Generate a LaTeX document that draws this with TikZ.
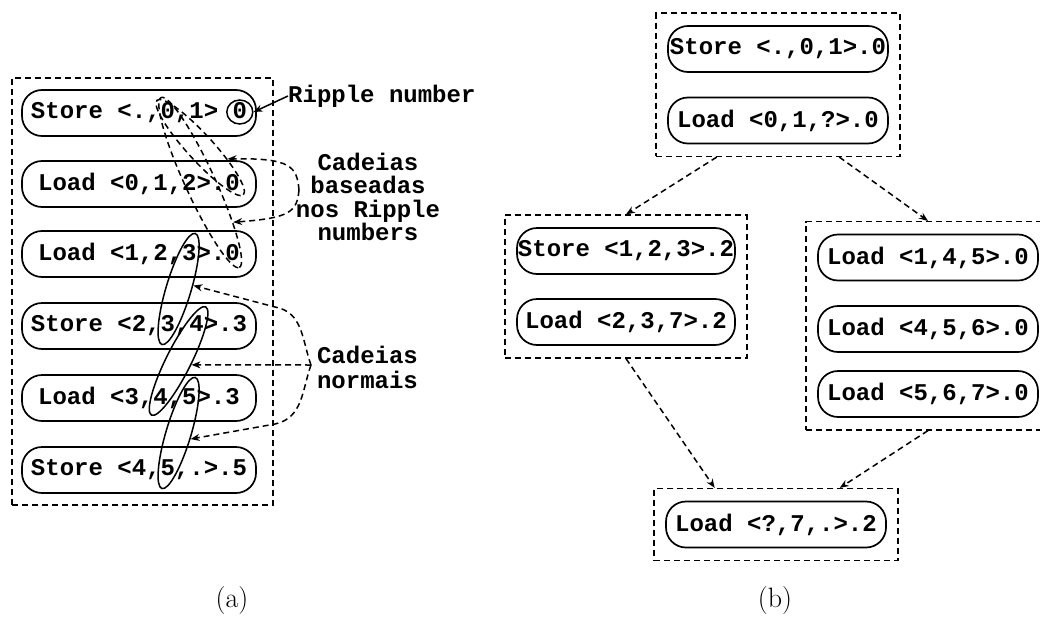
\documentclass[tikz,border=0pt]{standalone}
\usepackage{fontspec}
\newfontfamily\cour{Liberation Mono}
\usetikzlibrary{arrows.meta,shapes.geometric,fit,calc}
\begin{document}
\begin{tikzpicture}[x=1pt,y=-1pt,
  every node/.style={inner sep=0pt},
  tt/.style={font=\cour\bfseries\fontsize{24}{24}\selectfont},
  pill/.style={draw, line width=1.7pt, rounded corners=20pt, minimum height=46pt, tt},
  dsh/.style={line width=1.5pt, dash pattern=on 6pt off 4pt},
  grp/.style={draw, dsh, inner xsep=11pt, inner ysep=12pt},
  darr/.style={dsh, -{Stealth[length=9pt,width=7pt]}},
  sarr/.style={line width=1.5pt, -{Stealth[length=9pt,width=7pt]}},
  chainS/.style={draw, ellipse, line width=1.5pt, inner sep=0pt},
  chainD/.style={draw, ellipse, dsh, inner sep=0pt},
  figcap/.style={font=\fontsize{28}{30}\selectfont}
]
\fill[white] (0,0) rectangle (1040,618);
\useasboundingbox (0,0) rectangle (1040,618);

% ---------------- (a) ----------------
\node[draw, dsh, minimum width=261pt, minimum height=427pt] (boxa) at (142.5,291.5) {};
\node[pill, minimum width=234pt] (a1) at (139,113) {Store <.,0,1> 0};
\node[pill, minimum width=234pt] (a2) at (139,184) {Load <0,1,2>.0};
\node[pill, minimum width=234pt] (a3) at (139,254) {Load <1,2,3>.0};
\node[pill, minimum width=234pt] (a4) at (139,326) {Store <2,3,4>.3};
\node[pill, minimum width=234pt] (a5) at (139,398) {Load <3,4,5>.3};
\node[pill, minimum width=234pt] (a6) at (139,470) {Store <4,5,.>.5};

% ripple-number chains (dashed)
\node[chainD, minimum width=128pt, minimum height=26pt, rotate=-47.6] (d1) at (200.2,147.5) {};
\node[chainD, minimum width=187pt, minimum height=30pt, rotate=-65.3] (d2) at (200.2,182.5) {};
\node[chainS, minimum width=26pt, minimum height=24pt] (rn) at (239.8,112) {};

% normal chains (solid)
\node[chainS, minimum width=116pt, minimum height=25pt, rotate=73.3] (s1) at (178.6,289) {};
\node[chainS, minimum width=121pt, minimum height=25pt, rotate=63.4] (s2) at (178.6,361) {};
\node[chainS, minimum width=116pt, minimum height=25pt, rotate=73.3] (s3) at (178.6,433) {};

% annotations
\node[tt, anchor=west] (rip) at (288,96) {Ripple number};
\draw[sarr] (rip.west) -- (rn.east);

\node[align=center, font=\cour\bfseries\fontsize{24}{23.3}\selectfont] (cb) at (368,197) {Cadeias\\baseadas\\nos Ripple\\numbers};
\coordinate (jb) at (299,190);
\draw[darr] (jb) .. controls (297,166) and (290,158) .. (d1.25);
\draw[darr] (jb) .. controls (297,212) and (290,218) .. (d2.15);

\node[align=center, font=\cour\bfseries\fontsize{24}{25}\selectfont] (cn) at (367.5,367.5) {Cadeias\\normais};
\coordinate (jn) at (311,365);
\draw[darr] (jn) .. controls (302,340) and (303,312) .. (275,307) -- (s1.-60);
\draw[darr] (jn) -- (s2.-80);
\draw[darr] (jn) .. controls (302,390) and (303,418) .. (275,424) -- (s3.-100);

\node[figcap] (la) at (232,601) {(a)};

% ---------------- (b) ----------------
\node[pill, minimum width=220pt] (t1) at (778,49) {Store <.,0,1>.0};
\node[pill, minimum width=220pt] (t2) at (778,120.5) {Load <0,1,?>.0};
\node[grp, fit=(t1)(t2)] (gt) {};

\node[pill, minimum width=218pt] (l1) at (626,251) {Store <1,2,3>.2};
\node[pill, minimum width=218pt] (l2) at (626,322) {Load <2,3,7>.2};
\node[grp, fit=(l1)(l2)] (gl) {};

\node[pill, minimum width=220pt] (r1) at (928,257.5) {Load <1,4,5>.0};
\node[pill, minimum width=220pt] (r2) at (928,329) {Load <4,5,6>.0};
\node[pill, minimum width=220pt] (r3) at (928,394) {Load <5,6,7>.0};
\node[grp, fit=(r1)(r3)] (gr) {};

\node[pill, minimum width=220pt] (b1) at (776,524.5) {Load <?,7,.>.2};
\node[grp, fit=(b1)] (gb) {};

\draw[darr] ($(gt.south west)!.25!(gt.south east)$) -- (gl.north);
\draw[darr] ($(gt.south west)!.75!(gt.south east)$) -- (gr.north);
\draw[darr] (gl.south) -- ($(gb.north west)!.25!(gb.north east)$);
\draw[darr] (gr.south) -- ($(gb.north west)!.76!(gb.north east)$);

\node[figcap] (lb) at (775,601) {(b)};
\end{tikzpicture}
\end{document}
